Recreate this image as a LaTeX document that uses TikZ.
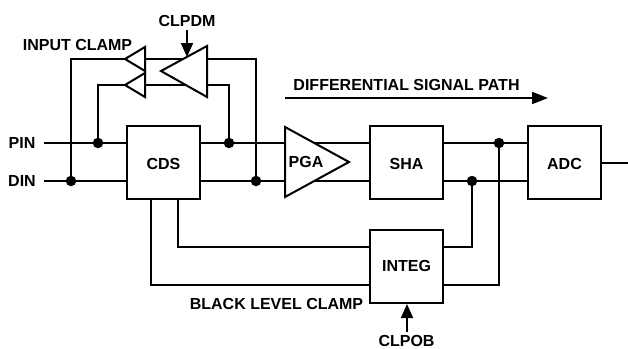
\documentclass[tikz,border=0pt]{standalone}
\usepackage{fontspec}
\setmainfont{Liberation Sans}
\usetikzlibrary{arrows.meta}
\tikzset{
  wire/.style={draw=black,line width=2pt,line join=miter},
  block/.style={draw=black,line width=2pt,fill=white,minimum width=73pt,minimum height=73pt,inner sep=0pt,outer sep=0pt},
  amp/.style={draw=black,line width=2pt,fill=white,line join=miter},
  lbl/.style={inner sep=0pt,outer sep=0pt,font=\fontsize{16pt}{17pt}\selectfont\bfseries},
  ctl/.style={draw=black,line width=2pt,-{Triangle[length=14pt,width=12pt]}},
  sigarrow/.style={draw=black,line width=2pt,-{Triangle[length=16pt,width=12pt]}},
  dot/.style={circle,fill=black,draw=none,minimum size=10.5pt,inner sep=0pt,outer sep=0pt}
}
\begin{document}
\begin{tikzpicture}[x=1pt,y=-1pt]
\useasboundingbox (0,0) rectangle (628,348);
% wires first, blocks and amplifiers painted over them
\coordinate (pinS) at (44,143);
\coordinate (dinS) at (44,181);
\node[lbl] (pinL) at (22,143) {PIN};
\node[lbl] (dinL) at (22,181) {DIN};
\coordinate (j1) at (98,143);
\coordinate (j2) at (71,181);
\coordinate (j3) at (229,143);
\coordinate (j4) at (256,181);
\coordinate (j5) at (499,143);
\coordinate (j6) at (472,181);
\coordinate (out) at (628,163);
\coordinate (pgaTip) at (349,162);
\coordinate (adcE) at (601,163);
\coordinate (uR) at (207,59);
\coordinate (lR) at (207,85);
% main paths
\draw[wire] (pinS) -- (370,143);
\draw[wire] (dinS) -- (370,181);
\draw[wire] (443,143) -- (528,143);
\draw[wire] (443,181) -- (528,181);
\draw[wire] (adcE) -- (out);
% clamp loops
\draw[wire] (j2) -- (71,59) -- (uR) -- (256,59) -- (j4);
\draw[wire] (j1) -- (98,85) -- (lR) -- (229,85) -- (j3);
% black level loops
\draw[wire] (178,199) -- (178,247) -- (370,247);
\draw[wire] (151,199) -- (151,285) -- (370,285);
\draw[wire] (443,247) -- (472,247) -- (j6);
\draw[wire] (443,285) -- (499,285) -- (j5);
% amplifiers
\draw[amp] (145,47) -- (125,59) -- (145,71) -- cycle;
\draw[amp] (145,73) -- (125,85) -- (145,97) -- cycle;
\draw[amp] (207,46) -- (161,71) -- (207,97) -- cycle;
\draw[amp] (285,127) -- (pgaTip) -- (285,197) -- cycle;
% blocks
\node[block] (cds) at (163.5,162.5) {};
\node[lbl] (cdsL) at (163.5,163.5) {CDS};
\node[block] (sha) at (406.5,162.5) {};
\node[lbl] (shaL) at (406.5,163.5) {SHA};
\node[block] (adc) at (564.5,162.5) {};
\node[lbl] (adcL) at (564.5,163.5) {ADC};
\node[block] (integ) at (406.5,266.5) {};
\node[lbl] (integL) at (406.5,265.5) {INTEG};
\node[lbl] (pgaL) at (306,162) {PGA};
% dots
\foreach \j in {j1,j2,j3,j4,j5,j6} \node[dot] (d\j) at (\j) {};
% control inputs
\node[lbl] (clpdm) at (187,20.5) {CLPDM};
\coordinate (clpdmA) at (187,30);
\coordinate (clpdmT) at (187,57);
\draw[ctl] (clpdmA) -- (clpdmT);
\node[lbl] (clpob) at (406.5,340.5) {CLPOB};
\coordinate (clpobA) at (407,332);
\draw[ctl] (clpobA) -- (407,304);
% labels
\node[lbl] (ic) at (77.5,44.5) {INPUT CLAMP};
\node[lbl] (blc) at (276.5,303.5) {BLACK LEVEL CLAMP};
\node[lbl] (dsp) at (406.5,85) {DIFFERENTIAL SIGNAL PATH};
\coordinate (dspA) at (285,98);
\coordinate (dspB) at (548,98);
\draw[sigarrow] (dspA) -- (dspB);
\end{tikzpicture}
\end{document}
